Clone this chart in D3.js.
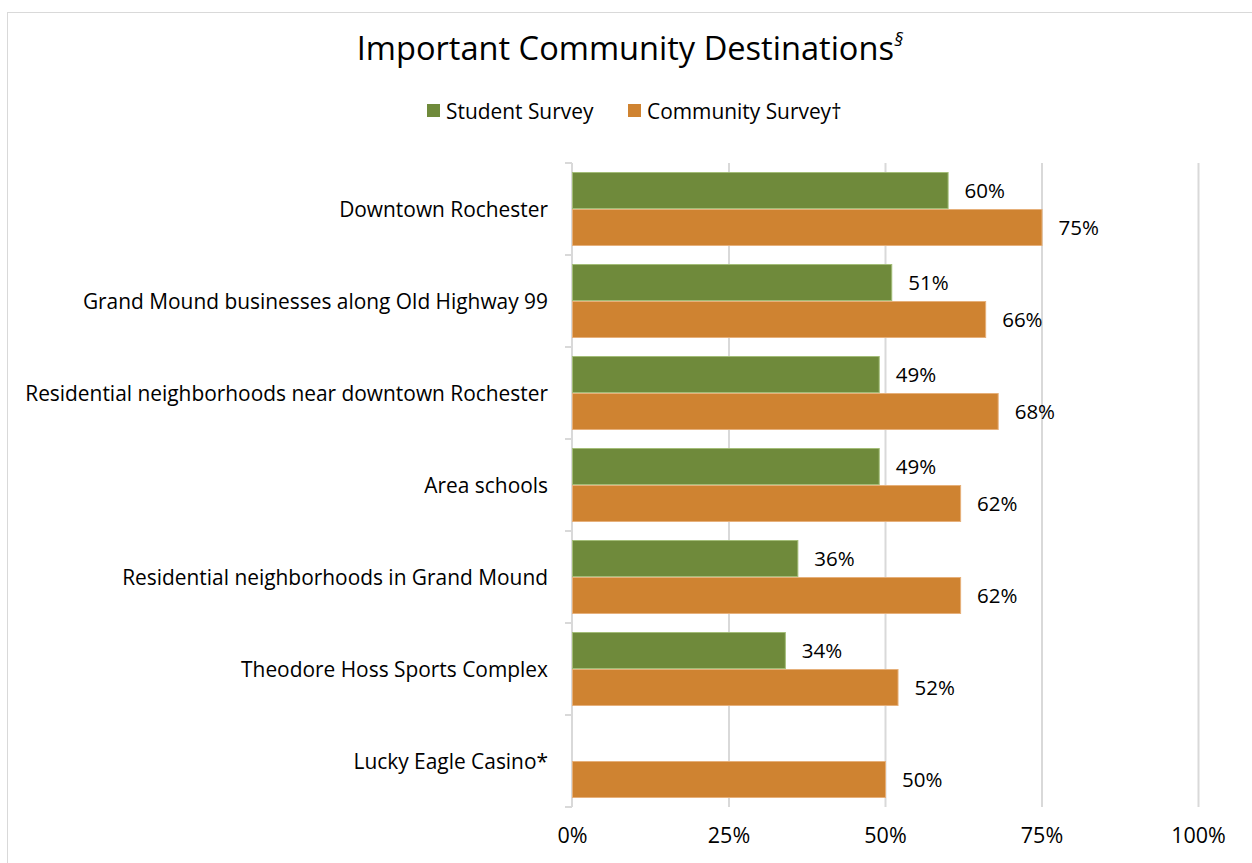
<!DOCTYPE html>
<html><head><meta charset="utf-8">
<script src="https://cdn.jsdelivr.net/npm/d3@7/dist/d3.min.js"></script>
<style>
html,body{margin:0;padding:0;background:#fff;}
svg{display:block;font-family:"Open Sans", "Noto Sans", sans-serif;}
</style></head>
<body>
<svg id="c" width="1252" height="863"></svg>
<script>
const categories = ["Downtown Rochester","Grand Mound businesses along Old Highway 99","Residential neighborhoods near downtown Rochester","Area schools","Residential neighborhoods in Grand Mound","Theodore Hoss Sports Complex","Lucky Eagle Casino*"];
const studentValues = [60,51,49,49,36,34,null];
const communityValues = [75,66,68,62,62,52,50];
const seriesNames = ["Student Survey","Community Survey\u2020"];
const xTicks = [0,25,50,75,100];

const colors = ["#6F8A3B","#CF8331"];
const strokes = ["#A3BD78","#E6B07A"];
const FONT = "'Open Sans', 'Noto Sans', sans-serif";

const svg = d3.select("#c");
svg.append("rect").attr("x",7.5).attr("y",12.5).attr("width",1250).attr("height",860)
  .attr("fill","none").attr("stroke","#d9d9d9").attr("stroke-width",1);

const x = d3.scaleLinear().domain([0,100]).range([572,1198]);
const y = d3.scaleBand().domain(categories).range([163,807]).paddingInner(0.196).paddingOuter(0.098);
const y2 = d3.scaleBand().domain([0,1]).range([0,y.bandwidth()]);

svg.append("g").selectAll("line").data(xTicks.slice(1)).join("line")
  .attr("x1",d=>x(d)+0.5).attr("x2",d=>x(d)+0.5).attr("y1",163).attr("y2",807)
  .attr("stroke","#d9d9d9").attr("stroke-width",2);

const yAxisG = svg.append("g").attr("transform","translate(572,0)");
yAxisG.append("line").attr("x1",0).attr("x2",0).attr("y1",163).attr("y2",807).attr("stroke","#d9d9d9").attr("stroke-width",2);
const bounds = d3.range(categories.length+1).map(i=>163+i*(644/categories.length));
yAxisG.selectAll("line.t").data(bounds).join("line").attr("class","t")
  .attr("x1",-7).attr("x2",0).attr("y1",d=>d).attr("y2",d=>d).attr("stroke","#d9d9d9").attr("stroke-width",2);

const series = [studentValues, communityValues];
series.forEach((vals,si)=>{
  const g = svg.append("g");
  const data = categories.map((c,i)=>({c, v:vals[i]})).filter(d=>d.v!=null);
  g.selectAll("rect").data(data).join("rect")
    .attr("x",x(0)+0.5).attr("y",d=>y(d.c)+y2(si)+0.5)
    .attr("width",d=>x(d.v)-x(0)).attr("height",y2.bandwidth()-1)
    .attr("fill",colors[si]).attr("stroke",strokes[si]).attr("stroke-width",1);
  g.selectAll("text").data(data).join("text")
    .attr("x",d=>x(d.v)+17).attr("y",d=>y(d.c)+y2(si)+y2.bandwidth()/2)
    .attr("dy","0.38em").attr("font-size",20.5).attr("fill","#000")
    .text(d=>d.v+"%");
});

svg.append("g").selectAll("text").data(categories).join("text")
  .attr("x",548).attr("y",d=>y(d)+y.bandwidth()/2).attr("dy","0.36em")
  .attr("text-anchor","end").attr("font-size",20.9).attr("fill","#000").text(d=>d);

const xAxis = d3.axisBottom(x).tickValues(xTicks).tickFormat(d=>d+"%").tickSize(0).tickPadding(0);
const xg = svg.append("g").attr("transform","translate(0,828)").call(xAxis);
xg.select(".domain").remove();
xg.selectAll("text").attr("font-size",21.5).attr("fill","#000").attr("font-family",FONT);

const t = svg.append("text").attr("x",630).attr("y",60).attr("text-anchor","middle")
  .attr("font-size",32.6).attr("fill","#000");
t.append("tspan").text("Important Community Destinations");
t.append("tspan").attr("font-size",19).attr("dy",-14).attr("font-style","italic").text("\u00a7");

const leg = svg.append("g");
const legX = [427,628];
seriesNames.forEach((n,i)=>{
  leg.append("rect").attr("x",legX[i]).attr("y",104).attr("width",13).attr("height",13).attr("fill",colors[i]);
  leg.append("text").attr("x",legX[i]+19).attr("y",111).attr("dy","0.36em").attr("font-size",20.9).attr("fill","#000").text(n);
});
</script>
</body></html>
